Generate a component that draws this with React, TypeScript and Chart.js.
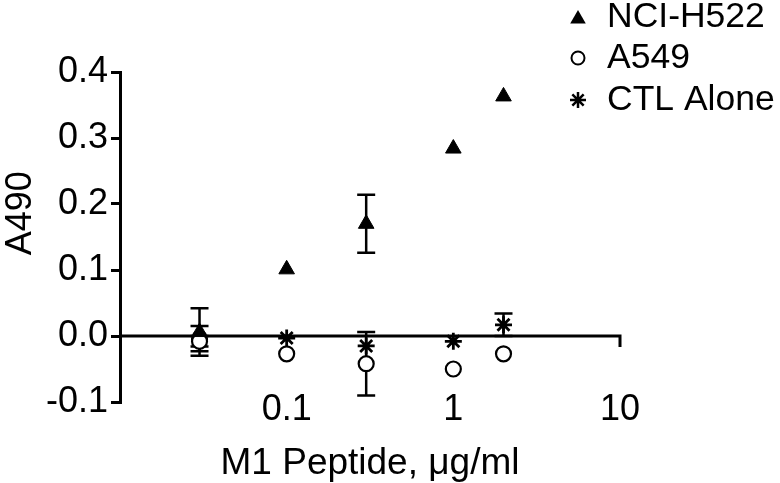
import React, { useEffect, useRef } from "react";
import { Chart, registerables } from "chart.js";

Chart.register(...registerables);

// ---- data ----
const doses = [0.03, 0.1, 0.3, 1, 2];
const nciH522 = [0.006, 0.101, 0.17, 0.284, 0.363];
const nciH522Err = [0.036, 0, 0.044, 0, 0];
const a549 = [-0.008, -0.027, -0.042, -0.05, -0.027];
const a549Err = [0.008, 0, 0.048, 0, 0];
const ctlAlone = [-0.004, -0.003, -0.015, -0.008, 0.017];
const ctlAloneErr = [0.019, 0, 0, 0, 0.017];
const xTickValues = [0.1, 1, 10];
const seriesNames = ["NCI-H522", "A549", "CTL Alone"];
const xTitle = "M1 Peptide, μg/ml";
const yTitle = "A490";

const FAMILY = '"Liberation Sans", Arial, Helvetica, sans-serif';
const TICK_FS = 36;
const TITLE_FS = 37;
const LEGEND_FS = 35.5;

function drawMarker(ctx: CanvasRenderingContext2D, style: string, x: number, y: number, r: number) {
  ctx.save();
  ctx.strokeStyle = "#000";
  ctx.fillStyle = "#000";
  ctx.beginPath();
  if (style === "triangle") {
    let rad = 0;
    ctx.moveTo(x + Math.sin(rad) * r, y - Math.cos(rad) * r);
    rad += (2 * Math.PI) / 3;
    ctx.lineTo(x + Math.sin(rad) * r, y - Math.cos(rad) * r);
    rad += (2 * Math.PI) / 3;
    ctx.lineTo(x + Math.sin(rad) * r, y - Math.cos(rad) * r);
    ctx.closePath();
    ctx.fill();
  } else if (style === "circle") {
    ctx.lineWidth = 2;
    ctx.fillStyle = "#fff";
    ctx.arc(x, y, r, 0, Math.PI * 2);
    ctx.fill();
    ctx.stroke();
  } else {
    ctx.lineWidth = 2.5;
    for (let k = 0; k < 4; k++) {
      const a = (k * Math.PI) / 4;
      ctx.moveTo(x - Math.cos(a) * r, y - Math.sin(a) * r);
      ctx.lineTo(x + Math.cos(a) * r, y + Math.sin(a) * r);
    }
    ctx.stroke();
  }
  ctx.restore();
}

const axisAndErrors = {
  id: "axisAndErrors",
  beforeDatasetsDraw(chart: any) {
    const { ctx, chartArea, scales } = chart;
    const x = scales.x;
    const y = scales.y;
    ctx.save();
    ctx.strokeStyle = "#000";
    ctx.lineWidth = 3;
    const y0 = y.getPixelForValue(0);
    const xEnd = x.getPixelForValue(10);
    ctx.beginPath();
    ctx.moveTo(chartArea.left, y0);
    ctx.lineTo(xEnd, y0);
    ctx.lineTo(xEnd, y0 + 11);
    ctx.stroke();

    ctx.lineWidth = 2.5;
    chart.data.datasets.forEach((ds: any) => {
      const errs: number[] = ds.errorBars || [];
      ds.data.forEach((pt: any, i: number) => {
        const e = errs[i];
        if (!e) return;
        const px = x.getPixelForValue(pt.x);
        const top = y.getPixelForValue(pt.y + e);
        const bot = y.getPixelForValue(pt.y - e);
        ctx.beginPath();
        ctx.moveTo(px, top);
        ctx.lineTo(px, bot);
        ctx.moveTo(px - 9, top);
        ctx.lineTo(px + 9, top);
        ctx.moveTo(px - 9, bot);
        ctx.lineTo(px + 9, bot);
        ctx.stroke();
      });
    });
    ctx.restore();
  },
  afterDraw(chart: any) {
    const { ctx, scales } = chart;
    const styles = ["triangle", "circle", "star"];
    const radii = [9, 6.5, 8];
    const rows = [17, 58, 100];
    ctx.save();
    ctx.font = `${LEGEND_FS}px ${FAMILY}`;
    ctx.fillStyle = "#000";
    ctx.textAlign = "left";
    ctx.textBaseline = "middle";
    seriesNames.forEach((name, i) => {
      drawMarker(ctx, styles[i], 578, rows[i] + (i === 0 ? 2 : 0), radii[i]);
      ctx.fillText(name, 607, rows[i]);
    });
    // y axis title
    const yc = scales.y.getPixelForValue(0.186);
    ctx.translate(21, yc);
    ctx.rotate(-Math.PI / 2);
    ctx.textAlign = "center";
    ctx.font = `${TITLE_FS - 1}px ${FAMILY}`;
    ctx.fillText(yTitle, 0, 0);
    ctx.restore();
  },
};

export default function App() {
  const ref = useRef<HTMLCanvasElement | null>(null);
  useEffect(() => {
    document.body.style.margin = "0";
    const canvas = ref.current;
    if (!canvas) return;
    const toPts = (vals: number[]) => vals.map((v, i) => ({ x: doses[i], y: v }));
    const chart = new Chart(canvas, {
      type: "scatter",
      data: {
        datasets: [
          {
            label: seriesNames[0],
            data: toPts(nciH522),
            errorBars: nciH522Err,
            pointStyle: "triangle",
            pointRadius: 9,
            backgroundColor: "#000",
            borderColor: "#000",
            borderWidth: 1,
          } as any,
          {
            label: seriesNames[1],
            data: toPts(a549),
            errorBars: a549Err,
            pointStyle: "circle",
            pointRadius: 7.5,
            backgroundColor: "#fff",
            borderColor: "#000",
            borderWidth: 2.2,
          } as any,
          {
            label: seriesNames[2],
            data: toPts(ctlAlone),
            errorBars: ctlAloneErr,
            pointStyle: "star",
            pointRadius: 8.5,
            backgroundColor: "#000",
            borderColor: "#000",
            borderWidth: 2.8,
          } as any,
        ],
      },
      options: {
        responsive: false,
        animation: false,
        events: [],
        layout: { padding: { top: 72, right: 160, left: 0, bottom: 0 } },
        plugins: { legend: { display: false }, tooltip: { enabled: false } },
        scales: {
          x: {
            type: "logarithmic",
            min: 0.01,
            max: 10,
            afterBuildTicks: (s: any) => {
              s.ticks = xTickValues.map((v) => ({ value: v }));
            },
            afterFit: (s: any) => {
              s.height = 81;
            },
            ticks: {
              color: "#000",
              font: { family: FAMILY, size: TICK_FS, lineHeight: 1 },
              mirror: true,
              padding: -26,
              autoSkip: false,
              maxRotation: 0,
              callback: (v: any) => String(v),
            },
            grid: { display: false, drawTicks: false },
            border: { display: false },
            title: {
              display: true,
              text: xTitle,
              color: "#000",
              font: { family: FAMILY, size: TITLE_FS, lineHeight: 1 },
              padding: { top: 0, bottom: 1 },
            },
          },
          y: {
            min: -0.1,
            max: 0.4,
            afterFit: (s: any) => {
              s.width = 120;
            },
            ticks: {
              stepSize: 0.1,
              color: "#000",
              font: { family: FAMILY, size: TICK_FS },
              padding: 3,
              callback: (v: any) => Number(v).toFixed(1),
            },
            grid: {
              drawOnChartArea: false,
              drawTicks: true,
              tickLength: 9,
              lineWidth: 3,
              color: "#000",
            },
            border: { display: true, width: 3, color: "#000" },
            title: { display: false },
          },
        },
      } as any,
      plugins: [axisAndErrors],
    });
    return () => chart.destroy();
  }, []);
  return (
    <div style={{ width: 780, height: 483 }}>
      <canvas ref={ref} width={780} height={483} style={{ display: "block" }} />
    </div>
  );
}
